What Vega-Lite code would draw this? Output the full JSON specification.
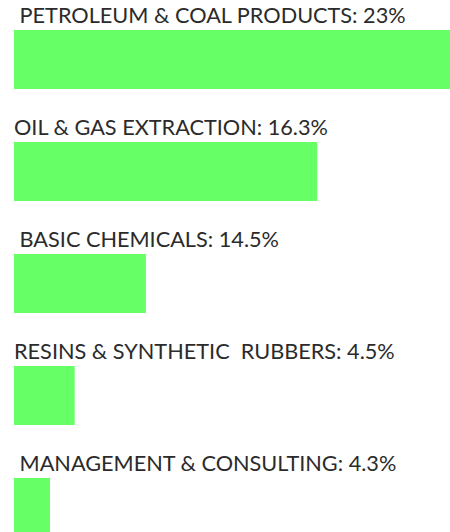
{
  "$schema": "https://vega.github.io/schema/vega-lite/v6.json",
  "width": 436,
  "height": 507,
  "padding": {"left": 14, "top": 30, "right": 0, "bottom": 0},
  "autosize": {"type": "none"},
  "background": "white",
  "config": {"view": {"stroke": null}},
  "data": {
    "values": [
      {"industry": "PETROLEUM & COAL PRODUCTS", "label": "\u200b\u00a0PETROLEUM & COAL PRODUCTS: 23%", "bar_length": 23},
      {"industry": "OIL & GAS EXTRACTION", "label": "OIL & GAS EXTRACTION: 16.3%", "bar_length": 16.0},
      {"industry": "BASIC CHEMICALS", "label": "\u200b\u00a0BASIC CHEMICALS: 14.5%", "bar_length": 6.96},
      {"industry": "RESINS & SYNTHETIC RUBBERS", "label": "RESINS & SYNTHETIC \u00a0RUBBERS: 4.5%", "bar_length": 3.2},
      {"industry": "MANAGEMENT & CONSULTING", "label": "\u200b\u00a0MANAGEMENT & CONSULTING: 4.3%", "bar_length": 1.9}
    ]
  },
  "encoding": {
    "y": {
      "field": "industry",
      "type": "nominal",
      "sort": null,
      "axis": null,
      "scale": {"paddingInner": 0.4732, "paddingOuter": 0}
    }
  },
  "layer": [
    {
      "mark": {"type": "bar", "color": "#66ff66"},
      "encoding": {
        "x": {"field": "bar_length", "type": "quantitative", "axis": null, "scale": {"domain": [0, 23], "nice": false}}
      }
    },
    {
      "mark": {"type": "text", "align": "left", "baseline": "alphabetic", "dy": -7, "font": "Lato", "fontSize": 21.7, "color": "#2b2b2b"},
      "encoding": {
        "x": {"value": 0},
        "y": {"field": "industry", "type": "nominal", "sort": null, "bandPosition": 0},
        "text": {"field": "label"}
      }
    }
  ]
}
